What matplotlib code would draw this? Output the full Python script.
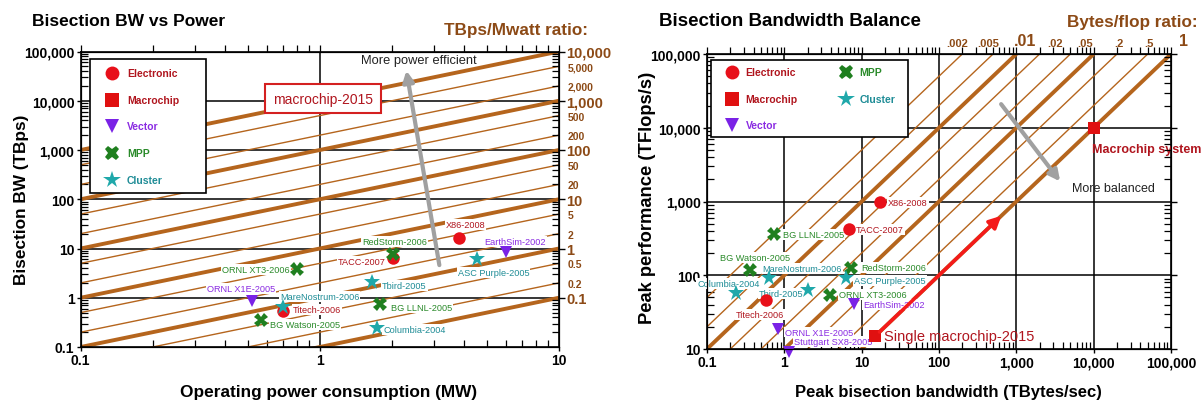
import matplotlib
matplotlib.use('Agg')
import matplotlib.pyplot as plt
import numpy as np
from matplotlib.patches import Rectangle
import matplotlib.transforms as mtransforms

plt.rcParams['font.family'] = ['Liberation Sans', 'DejaVu Sans']

# ---------------- data ----------------
categories = ['Electronic', 'Macrochip', 'Vector', 'MPP', 'Cluster']

# Left chart: operating power (MW) vs bisection BW (TBps)
left_names = ['X86-2008', 'TACC-2007', 'Titech-2006', 'ORNL X1E-2005', 'EarthSim-2002',
              'ORNL XT3-2006', 'RedStorm-2006', 'BG LLNL-2005', 'BG Watson-2005',
              'MareNostrum-2006', 'Tbird-2005', 'ASC Purple-2005', 'Columbia-2004']
left_cats = ['Electronic', 'Electronic', 'Electronic', 'Vector', 'Vector',
             'MPP', 'MPP', 'MPP', 'MPP',
             'Cluster', 'Cluster', 'Cluster', 'Cluster']
left_power = [3.8, 2.02, 0.70, 0.52, 6.0, 0.80, 2.02, 1.79, 0.565, 0.70, 1.66, 4.55, 1.73]
left_bw = [16.7, 6.5, 0.54, 0.86, 8.3, 3.9, 7.6, 0.73, 0.35, 0.64, 2.05, 6.0, 0.24]

# TBps/MW ratio lines
left_ratios = [0.1, 0.2, 0.5, 1, 2, 5, 10, 20, 50, 100, 200, 500, 1000, 2000, 5000, 10000]

# Right chart: peak bisection BW (TB/s) vs peak performance (TFlops)
right_names = ['X86-2008', 'TACC-2007', 'Titech-2006', 'Single macrochip-2015', 'Macrochip system',
               'EarthSim-2002', 'ORNL X1E-2005', 'Stuttgart SX8-2005',
               'BG LLNL-2005', 'BG Watson-2005', 'RedStorm-2006', 'ORNL XT3-2006',
               'MareNostrum-2006', 'ASC Purple-2005', 'Columbia-2004', 'Tbird-2005']
right_cats = ['Electronic', 'Electronic', 'Electronic', 'Macrochip', 'Macrochip',
              'Vector', 'Vector', 'Vector',
              'MPP', 'MPP', 'MPP', 'MPP',
              'Cluster', 'Cluster', 'Cluster', 'Cluster']
right_bw = [17.5, 6.8, 0.578, 15, 10000, 8.0, 0.82, 1.16, 0.726, 0.365, 7.26, 3.86, 0.637, 6.2, 0.237, 2.04]
right_perf = [980, 430, 46, 15, 10000, 40.4, 18.5, 9.1, 364, 117, 127, 53.5, 92, 91, 58, 63]

# Bytes/flop ratio lines
right_ratios = [0.002, 0.005, 0.01, 0.02, 0.05, 0.1, 0.2, 0.5, 1]
right_ratio_labels = ['.002', '.005', '.01', '.02', '.05', '.2', '.5', '1']
right_ratio_label_vals = [0.002, 0.005, 0.01, 0.02, 0.05, 0.2, 0.5, 1]

# ---------------- styles / layout ----------------
cat_marker = {'Electronic': 'o', 'Macrochip': 's', 'Vector': 'v', 'MPP': 'X', 'Cluster': '*'}
cat_color = {'Electronic': '#E8101A', 'Macrochip': '#E01010', 'Vector': '#7A22E6',
             'MPP': '#1F7F1F', 'Cluster': '#1FA8AA'}
cat_size = {'Electronic': 9, 'Macrochip': 8.5, 'Vector': 9, 'MPP': 9.5, 'Cluster': 12}
cat_text = {'Electronic': '#B0151E', 'Macrochip': '#B0151E', 'Vector': '#8A2BE2',
            'MPP': '#2A8A2A', 'Cluster': '#1E8C96'}

BROWN = '#B5651D'
BROWN_TXT = '#8C4A16'
GRAY = '#A0A0A0'
LAB_FS = 6.6

# label placements (data coords) for the left chart
left_lab_pos = [(4.06, 30.6, 'center'), (1.89, 5.4, 'right'), (0.77, 0.58, 'left'),
                (0.47, 1.55, 'center'), (6.56, 14.1, 'center'),
                (0.75, 3.8, 'right'), (2.05, 14.1, 'center'), (1.99, 0.63, 'left'),
                (0.62, 0.288, 'left'), (0.68, 1.08, 'left'), (1.82, 1.75, 'left'),
                (5.32, 3.26, 'center'), (1.84, 0.228, 'left')]
# label placements for the right chart
right_lab_pos = [(22, 980, 'left'), (8.4, 412, 'left'), (0.486, 29.5, 'center'),
                 (19.5, 15, 'left'), (9400, 5100, 'left'),
                 (10.5, 40.4, 'left'), (1.01, 17, 'left'), (1.35, 12.6, 'left'),
                 (0.96, 353, 'left'), (0.419, 174, 'center'), (9.8, 127, 'left'), (5.1, 55, 'left'),
                 (1.70, 124, 'center'), (8.0, 83.8, 'left'), (0.188, 77, 'center'), (1.75, 56.4, 'right')]

fig = plt.figure(figsize=(12.03, 4.06), dpi=100)
W, H = 1203.0, 406.0


def px_axes(l, r, t, b):
    return [l / W, 1 - b / H, (r - l) / W, (b - t) / H]


def style_log_axes(ax, xticks, xlabels, yticks, ylabels):
    ax.set_xscale('log')
    ax.set_yscale('log')
    for s in ax.spines.values():
        s.set_linewidth(1.2)
        s.set_color('black')
    ax.set_xticks(xticks, xlabels, fontweight='bold', fontsize=10)
    ax.set_yticks(yticks, ylabels, fontweight='bold', fontsize=10)
    ax.tick_params(which='major', direction='out', length=3, width=1, pad=1.5)
    ax.tick_params(which='minor', direction='in', length=5, width=0.9)


def minor_list(lo, hi):
    out = []
    d = lo
    while d < hi:
        for m in range(2, 10):
            out.append(d * m)
        d *= 10
    return out


def fmt(v):
    if v >= 1:
        return f"{v:,.0f}"
    return f"{v:g}"


def is_decade(r):
    return abs(np.log10(r) - round(np.log10(r))) < 1e-9


# ================= LEFT CHART =================
ax1 = fig.add_axes(px_axes(80.7, 559, 52.5, 348))
xt = [0.1, 1, 10]
yt = [0.1, 1, 10, 100, 1000, 10000, 100000]
style_log_axes(ax1, xt, [fmt(v) for v in xt], yt, [fmt(v) for v in yt])
ax1.set_xticks(minor_list(0.1, 10), minor=True)
ax1.set_yticks(minor_list(0.1, 100000), minor=True)
ax1.set_xlim(0.1, 10)
ax1.set_ylim(0.1, 100000)

for v in [1]:
    ax1.axvline(v, color='black', lw=1.1, zorder=1.5)
for v in [1, 10, 100, 1000, 10000]:
    ax1.axhline(v, color='black', lw=1.1, zorder=1.5)

for r in left_ratios:
    ax1.plot([0.1, 10], [r * 0.1, r * 10], color=BROWN, lw=2.8 if is_decade(r) else 1.0,
             solid_capstyle='butt', zorder=2)

for cat in categories:
    idx = [i for i, c in enumerate(left_cats) if c == cat]
    if not idx:
        continue
    ax1.plot([left_power[i] for i in idx], [left_bw[i] for i in idx], linestyle='none',
             marker=cat_marker[cat], color=cat_color[cat], markersize=cat_size[cat],
             markeredgewidth=0, zorder=5)

for i, name in enumerate(left_names):
    x, y, ha = left_lab_pos[i]
    ax1.text(x, y, name, ha=ha, va='center', fontsize=LAB_FS, color=cat_text[left_cats[i]],
             zorder=4, bbox=dict(boxstyle='square,pad=0.1', fc='white', ec='none'))

ax1.text(1.03, 11100, 'macrochip-2015', ha='center', va='center', fontsize=10,
         color='#B0151E', zorder=6,
         bbox=dict(boxstyle='square,pad=0.55', fc='white', ec='#D42020', lw=1.5))

ax1.annotate('', xy=(2.30, 41000), xytext=(3.16, 4.6),
             arrowprops=dict(arrowstyle='-|>', color=GRAY, lw=3, mutation_scale=16,
                             shrinkA=0, shrinkB=0), zorder=4)
ax1.text(2.59, 67000, 'More power efficient', ha='center', va='center', fontsize=9.3,
         color='#222222', zorder=6)

# legend (left)
ax1.add_patch(Rectangle((0.019, 0.521), 0.243, 0.453, transform=ax1.transAxes,
                        fc='white', ec='black', lw=1.2, zorder=7))
leg_rows1 = [0.927, 0.835, 0.747, 0.656, 0.565]
for cat, yy in zip(categories, leg_rows1):
    ax1.plot([0.065], [yy], transform=ax1.transAxes, marker=cat_marker[cat],
             color=cat_color[cat], markersize=cat_size[cat] + 1, markeredgewidth=0,
             linestyle='none', zorder=8, clip_on=False)
    ax1.text(0.097, yy, cat, transform=ax1.transAxes, ha='left', va='center',
             fontsize=7.5, fontweight='bold', color=cat_text[cat], zorder=8)

# top ticks (outward)
ax1t = ax1.twiny()
ax1t.set_xscale('log')
ax1t.set_xlim(0.1, 10)
ax1t.set_xticks(xt, ['' for _ in xt])
ax1t.set_xticks(minor_list(0.1, 10), minor=True)
ax1t.tick_params(which='both', direction='out', length=5, width=0.9, labeltop=False)

# right ratio axis
ax1r = ax1.twinx()
ax1r.set_yscale('log')
ax1r.set_ylim(0.1, 100000)
maj = [r * 10 for r in left_ratios if is_decade(r)]
ax1r.set_yticks(maj, [fmt(v / 10) for v in maj], fontsize=10.5, fontweight='bold', color=BROWN_TXT)
mn_lab = {r * 10: fmt(r) for r in left_ratios if not is_decade(r)}
mins = minor_list(0.1, 100000)
lab_list = []
for v in mins:
    lab = ''
    for k, t in mn_lab.items():
        if abs(v - k) < 1e-6 * k:
            lab = t
    lab_list.append(lab)
ax1r.set_yticks(mins, lab_list, minor=True, fontsize=7.5, fontweight='bold', color=BROWN_TXT)
ax1r.tick_params(which='major', direction='out', length=4, width=1, pad=1)
ax1r.tick_params(which='minor', direction='in', length=5, width=0.9, pad=6)

# ================= RIGHT CHART =================
ax2 = fig.add_axes(px_axes(707, 1171, 55, 350))
xt2 = [0.1, 1, 10, 100, 1000, 10000, 100000]
yt2 = [10, 100, 1000, 10000, 100000]
style_log_axes(ax2, xt2, [fmt(v) for v in xt2], yt2, [fmt(v) for v in yt2])
ax2.set_xticks(minor_list(0.1, 100000), minor=True)
ax2.set_yticks(minor_list(10, 100000), minor=True)
ax2.set_xlim(0.1, 100000)
ax2.set_ylim(10, 100000)

for v in [1, 10, 100, 1000, 10000]:
    ax2.axvline(v, color='black', lw=1.1, zorder=1.5)
for v in [100, 1000, 10000]:
    ax2.axhline(v, color='black', lw=1.1, zorder=1.5)

for r in right_ratios:
    ax2.plot([0.1, 100000 * r], [0.1 / r, 100000], color=BROWN, lw=2.8 if is_decade(r) else 1.0,
             solid_capstyle='butt', zorder=2)

for cat in categories:
    idx = [i for i, c in enumerate(right_cats) if c == cat]
    ax2.plot([right_bw[i] for i in idx], [right_perf[i] for i in idx], linestyle='none',
             marker=cat_marker[cat], color=cat_color[cat], markersize=cat_size[cat],
             markeredgewidth=0, zorder=5, clip_on=False)

for i, name in enumerate(right_names):
    x, y, ha = right_lab_pos[i]
    if name == 'Single macrochip-2015':
        ax2.text(x, y, name, ha=ha, va='center', fontsize=10.5, color='#B0151E', zorder=6)
    elif name == 'Macrochip system':
        ax2.text(x, y, name, ha=ha, va='center', fontsize=9, fontweight='bold',
                 color='#B0151E', zorder=6, clip_on=False)
    else:
        ax2.text(x, y, name, ha=ha, va='center', fontsize=LAB_FS, color=cat_text[right_cats[i]],
                 zorder=4, bbox=dict(boxstyle='square,pad=0.1', fc='white', ec='none'))

ax2.annotate('', xy=(640, 640), xytext=(17, 17),
             arrowprops=dict(arrowstyle='-|>', color='#F41A1A', lw=2.5, mutation_scale=18,
                             shrinkA=0, shrinkB=0), zorder=6)
ax2.annotate('', xy=(3690, 1870), xytext=(636, 20900),
             arrowprops=dict(arrowstyle='-|>', color=GRAY, lw=3, mutation_scale=16,
                             shrinkA=0, shrinkB=0), zorder=4)
ax2.text(5180, 1530, 'More balanced', ha='left', va='center', fontsize=9,
         color='#222222', zorder=6)

# legend (right)
ax2.add_patch(Rectangle((0.008, 0.719), 0.425, 0.262, transform=ax2.transAxes,
                        fc='white', ec='black', lw=1.2, zorder=7))
leg_pos2 = [(0.054, 0.939), (0.054, 0.849), (0.054, 0.760), (0.300, 0.939), (0.300, 0.849)]
for cat, (xx, yy) in zip(categories, leg_pos2):
    ax2.plot([xx], [yy], transform=ax2.transAxes, marker=cat_marker[cat],
             color=cat_color[cat], markersize=cat_size[cat] + 1, markeredgewidth=0,
             linestyle='none', zorder=8, clip_on=False)
    ax2.text(xx + 0.029, yy, cat, transform=ax2.transAxes, ha='left', va='center',
             fontsize=7.5, fontweight='bold', color=cat_text[cat], zorder=8)

ax2t = ax2.twiny()
ax2t.set_xscale('log')
ax2t.set_xlim(0.1, 100000)
ax2t.set_xticks(xt2, ['' for _ in xt2])
ax2t.set_xticks(minor_list(0.1, 100000), minor=True)
ax2t.tick_params(which='both', direction='out', length=5, width=0.9, labeltop=False)

ax2r = ax2.twinx()
ax2r.set_yscale('log')
ax2r.set_ylim(10, 100000)
ax2r.set_yticks(yt2, ['' for _ in yt2])
ax2r.set_yticks(minor_list(10, 100000), minor=True)
ax2r.tick_params(which='major', direction='out', length=4, width=1)
ax2r.tick_params(which='minor', direction='in', length=5, width=0.9, labelright=False)

# top ratio labels
label_shift_px = [-5, -5, 9, 15, 15, 2, 1, 12]
trans_top = mtransforms.blended_transform_factory(ax2.transData, ax2.transAxes)
for lab, r, dx in zip(right_ratio_labels, right_ratio_label_vals, label_shift_px):
    big = lab in ('.01', '1')
    t = trans_top + mtransforms.ScaledTranslation(dx / 100.0, 0, fig.dpi_scale_trans)
    ax2.text(100000 * r, 1.022, lab, transform=t, ha='center', va='bottom',
             fontsize=11.5 if big else 8, fontweight='bold', color=BROWN_TXT, clip_on=False)

# ---------------- titles & labels ----------------
fig.text(32 / W, 1 - 22 / H, 'Bisection BW vs Power', ha='left', va='center',
         fontsize=12.5, fontweight='bold', color='black')
fig.text(444 / W, 1 - 31 / H, 'TBps/Mwatt ratio:', ha='left', va='center',
         fontsize=12.3, fontweight='bold', color=BROWN_TXT)
fig.text(659 / W, 1 - 22 / H, 'Bisection Bandwidth Balance', ha='left', va='center',
         fontsize=13.5, fontweight='bold', color='black')
fig.text(1067 / W, 1 - 22 / H, 'Bytes/flop ratio:', ha='left', va='center',
         fontsize=12.3, fontweight='bold', color=BROWN_TXT)

fig.text(22 / W, 1 - 200 / H, 'Bisection BW (TBps)', rotation=90, ha='center', va='center',
         fontsize=12.4, fontweight='bold')
fig.text(329 / W, 1 - 393 / H, 'Operating power consumption (MW)', ha='center', va='center',
         fontsize=12.4, fontweight='bold')
fig.text(647 / W, 1 - 198 / H, 'Peak performance (TFlops/s)', rotation=90, ha='center', va='center',
         fontsize=13.2, fontweight='bold')
fig.text(948 / W, 1 - 393 / H, 'Peak bisection bandwidth (TBytes/sec)', ha='center', va='center',
         fontsize=12, fontweight='bold')

fig.savefig('out.png', dpi=100)
